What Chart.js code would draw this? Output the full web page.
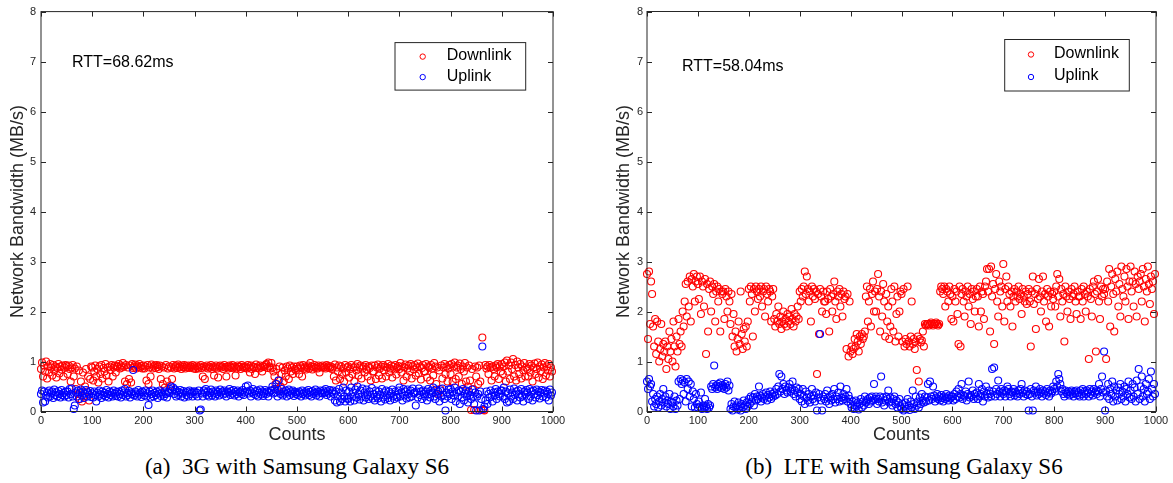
<!DOCTYPE html>
<html>
<head>
<meta charset="utf-8">
<script src="https://cdn.jsdelivr.net/npm/chart.js@4.4.1/dist/chart.umd.min.js"></script>
<style>
  body { margin: 0; background: #fff; }
  #wrap { position: relative; width: 1173px; height: 483px; }
  .panel { position: absolute; top: 0; }
  .caption { position: absolute; top: 454px; font: 23px "Liberation Serif", "Times New Roman", serif; color: #000; white-space: pre; transform: translateX(-50%); line-height: 26px; }
</style>
</head>
<body>
<div id="wrap">
  <canvas id="chart3g" class="panel" style="left:0" width="570" height="446"></canvas>
  <canvas id="chartLte" class="panel" style="left:606px" width="567" height="446"></canvas>
  <div class="caption" style="left:297px">(a)  3G with Samsung Galaxy S6</div>
  <div class="caption" style="left:904px">(b)  LTE with Samsung Galaxy S6</div>
</div>
<script>
// sample index (every 2nd count)
const counts = [
  0,2,4,6,8,10,12,14,16,18,20,22,24,26,28,30,32,34,36,38,40,42,44,46,48,
  50,52,54,56,58,60,62,64,66,68,70,72,74,76,78,80,82,84,86,88,90,92,94,96,98,
  100,102,104,106,108,110,112,114,116,118,120,122,124,126,128,130,132,134,136,138,140,142,144,146,148,
  150,152,154,156,158,160,162,164,166,168,170,172,174,176,178,180,182,184,186,188,190,192,194,196,198,
  200,202,204,206,208,210,212,214,216,218,220,222,224,226,228,230,232,234,236,238,240,242,244,246,248,
  250,252,254,256,258,260,262,264,266,268,270,272,274,276,278,280,282,284,286,288,290,292,294,296,298,
  300,302,304,306,308,310,312,314,316,318,320,322,324,326,328,330,332,334,336,338,340,342,344,346,348,
  350,352,354,356,358,360,362,364,366,368,370,372,374,376,378,380,382,384,386,388,390,392,394,396,398,
  400,402,404,406,408,410,412,414,416,418,420,422,424,426,428,430,432,434,436,438,440,442,444,446,448,
  450,452,454,456,458,460,462,464,466,468,470,472,474,476,478,480,482,484,486,488,490,492,494,496,498,
  500,502,504,506,508,510,512,514,516,518,520,522,524,526,528,530,532,534,536,538,540,542,544,546,548,
  550,552,554,556,558,560,562,564,566,568,570,572,574,576,578,580,582,584,586,588,590,592,594,596,598,
  600,602,604,606,608,610,612,614,616,618,620,622,624,626,628,630,632,634,636,638,640,642,644,646,648,
  650,652,654,656,658,660,662,664,666,668,670,672,674,676,678,680,682,684,686,688,690,692,694,696,698,
  700,702,704,706,708,710,712,714,716,718,720,722,724,726,728,730,732,734,736,738,740,742,744,746,748,
  750,752,754,756,758,760,762,764,766,768,770,772,774,776,778,780,782,784,786,788,790,792,794,796,798,
  800,802,804,806,808,810,812,814,816,818,820,822,824,826,828,830,832,834,836,838,840,842,844,846,848,
  850,852,854,856,858,860,862,864,866,868,870,872,874,876,878,880,882,884,886,888,890,892,894,896,898,
  900,902,904,906,908,910,912,914,916,918,920,922,924,926,928,930,932,934,936,938,940,942,944,946,948,
  950,952,954,956,958,960,962,964,966,968,970,972,974,976,978,980,982,984,986,988,990,992,994,996,998
];

const xTicks = [0, 100, 200, 300, 400, 500, 600, 700, 800, 900, 1000];
const yTicks = [0, 1, 2, 3, 4, 5, 6, 7, 8];

// 3G (MB/s)
const down3g = [
  0.85,0.98,0.7,0.92,0.8,1.0,0.66,0.9,0.78,0.95,0.88,0.72,0.93,0.82,0.9,0.68,0.87,0.95,0.76,0.9,0.84,0.92,0.7,0.88,0.93,
  0.9,0.75,0.92,0.85,0.6,0.88,0.93,0.7,0.86,0.45,0.9,0.35,0.82,0.25,0.6,0.2,0.78,0.3,0.5,0.85,0.4,0.7,0.22,0.65,0.9,
  0.88,0.62,0.8,0.92,0.7,0.85,0.58,0.9,0.75,0.93,0.66,0.87,0.8,0.95,0.72,0.88,0.6,0.9,0.83,0.93,0.7,0.88,0.92,0.78,0.9,
  0.9,0.95,0.86,0.92,0.88,0.97,0.9,0.6,0.93,0.55,0.88,0.65,0.92,0.58,0.95,0.87,0.9,0.94,0.86,0.92,0.89,0.95,0.88,0.91,0.86,
  0.92,0.86,0.9,0.62,0.93,0.55,0.88,0.7,0.94,0.86,0.9,0.92,0.87,0.93,0.89,0.85,0.92,0.65,0.9,0.55,0.88,0.48,0.93,0.6,0.86,
  0.9,0.52,0.88,0.65,0.93,0.86,0.9,0.92,0.87,0.94,0.88,0.9,0.85,0.92,0.89,0.93,0.86,0.9,0.88,0.92,0.87,0.91,0.89,0.93,0.86,
  0.9,0.85,0.92,0.88,0.86,0.9,0.93,0.87,0.7,0.9,0.65,0.88,0.92,0.86,0.9,0.88,0.93,0.85,0.9,0.72,0.88,0.92,0.86,0.68,0.9,
  0.92,0.88,0.9,0.85,0.93,0.88,0.7,0.9,0.86,0.92,0.89,0.87,0.93,0.88,0.9,0.72,0.86,0.92,0.89,0.9,0.85,0.93,0.88,0.9,0.87,
  0.9,0.86,0.93,0.88,0.78,0.92,0.85,0.9,0.88,0.75,0.94,0.87,0.9,0.86,0.92,0.88,0.8,0.91,0.89,0.93,0.95,0.87,0.98,0.9,0.86,
  0.97,0.88,0.8,0.7,0.55,0.85,0.45,0.62,0.9,0.5,0.75,0.88,0.6,0.82,0.7,0.9,0.86,0.65,0.92,0.8,0.88,0.75,0.9,0.85,0.82,
  0.9,0.86,0.75,0.92,0.88,0.7,0.93,0.86,0.9,0.84,0.88,0.92,0.86,0.97,0.9,0.84,0.89,0.93,0.87,0.9,0.86,0.92,0.78,0.9,0.88,
  0.92,0.88,0.9,0.86,0.93,0.88,0.91,0.87,0.9,0.85,0.88,0.7,0.94,0.62,0.88,0.8,0.92,0.65,0.9,0.75,0.86,0.6,0.93,0.78,0.88,
  0.9,0.68,0.85,0.93,0.75,0.88,0.6,0.9,0.82,0.95,0.72,0.88,0.92,0.66,0.86,0.9,0.78,0.93,0.84,0.7,0.9,0.87,0.62,0.92,0.8,
  0.8,0.92,0.65,0.88,0.94,0.72,0.86,0.9,0.66,0.93,0.82,0.9,0.7,0.88,0.95,0.78,0.86,0.92,0.68,0.9,0.84,0.93,0.74,0.88,0.91,
  0.85,0.97,0.78,0.9,0.62,0.88,0.94,0.7,0.86,0.92,0.8,0.95,0.66,0.9,0.84,0.93,0.72,0.88,0.96,0.76,0.9,0.64,0.87,0.93,0.8,
  0.8,0.95,0.68,0.9,0.88,0.62,0.93,0.86,0.72,0.97,0.9,0.55,0.88,0.35,0.82,0.45,0.92,0.66,0.88,0.95,0.75,0.9,0.6,0.86,0.93,
  0.75,0.95,0.6,0.9,0.98,0.65,0.88,0.92,0.7,0.96,0.85,0.55,0.9,0.8,0.97,0.6,0.88,0.5,0.92,0.62,0.03,0.85,0.45,0.03,0.9,
  0.7,0.88,0.55,0.92,0.6,0.03,1.48,0.03,0.02,0.93,0.86,0.9,0.75,0.93,0.88,0.62,0.9,0.85,0.7,0.92,0.88,0.95,0.65,0.9,0.8,
  0.95,0.75,0.9,0.98,0.6,1.02,0.8,0.92,0.65,0.98,0.85,1.05,0.7,0.93,0.62,1.0,0.88,0.75,0.95,0.66,0.9,0.82,0.97,0.7,0.88,
  0.85,0.7,0.95,0.78,0.92,0.6,0.88,0.96,0.75,0.85,0.98,0.68,0.9,0.8,0.94,0.65,0.88,0.97,0.72,0.9,0.82,0.95,0.7,0.88,0.8
];
const up3g = [
  0.35,0.42,0.18,0.4,0.2,0.32,0.38,0.28,0.42,0.3,0.36,0.4,0.27,0.44,0.33,0.38,0.3,0.41,0.35,0.28,0.43,0.33,0.37,0.3,0.4,
  0.33,0.4,0.28,0.45,0.35,0.46,0.3,0.05,0.12,0.38,0.3,0.42,0.25,0.38,0.44,0.32,0.4,0.27,0.36,0.43,0.3,0.38,0.34,0.41,0.29,
  0.36,0.28,0.4,0.33,0.2,0.38,0.3,0.42,0.34,0.27,0.4,0.33,0.37,0.3,0.43,0.35,0.28,0.4,0.33,0.38,0.3,0.42,0.36,0.31,0.39,
  0.3,0.4,0.35,0.28,0.42,0.33,0.38,0.45,0.3,0.37,0.33,0.41,0.28,0.38,0.35,0.83,0.32,0.4,0.36,0.3,0.43,0.34,0.38,0.29,0.4,
  0.38,0.32,0.42,0.3,0.36,0.13,0.4,0.28,0.35,0.42,0.3,0.37,0.33,0.4,0.27,0.36,0.42,0.31,0.38,0.34,0.3,0.4,0.35,0.28,0.39,
  0.37,0.45,0.5,0.42,0.48,0.35,0.44,0.3,0.4,0.33,0.38,0.43,0.3,0.36,0.41,0.28,0.38,0.33,0.4,0.3,0.42,0.35,0.38,0.3,0.4,
  0.4,0.34,0.38,0.3,0.42,0.02,0.04,0.36,0.3,0.42,0.38,0.45,0.33,0.4,0.3,0.37,0.44,0.32,0.4,0.36,0.3,0.42,0.35,0.39,0.32,
  0.44,0.38,0.4,0.34,0.42,0.36,0.3,0.4,0.38,0.45,0.33,0.41,0.36,0.43,0.32,0.39,0.35,0.42,0.3,0.38,0.4,0.35,0.43,0.33,0.38,
  0.5,0.4,0.52,0.36,0.42,0.3,0.38,0.45,0.35,0.4,0.33,0.42,0.3,0.38,0.44,0.34,0.4,0.31,0.37,0.43,0.35,0.4,0.3,0.38,0.42,
  0.42,0.5,0.36,0.45,0.38,0.55,0.3,0.62,0.4,0.35,0.45,0.32,0.4,0.36,0.42,0.3,0.38,0.44,0.33,0.4,0.36,0.42,0.31,0.39,0.35,
  0.38,0.33,0.4,0.36,0.3,0.42,0.35,0.38,0.32,0.4,0.36,0.43,0.33,0.39,0.3,0.41,0.35,0.38,0.44,0.32,0.4,0.36,0.3,0.42,0.37,
  0.36,0.42,0.38,0.45,0.33,0.4,0.36,0.43,0.3,0.38,0.42,0.35,0.22,0.4,0.18,0.3,0.45,0.2,0.38,0.25,0.48,0.3,0.2,0.42,0.26,
  0.25,0.4,0.2,0.48,0.3,0.38,0.22,0.44,0.28,0.5,0.35,0.24,0.42,0.3,0.46,0.22,0.38,0.28,0.44,0.33,0.25,0.4,0.3,0.47,0.26,
  0.35,0.22,0.42,0.3,0.26,0.4,0.34,0.2,0.45,0.28,0.38,0.24,0.42,0.32,0.27,0.4,0.22,0.36,0.44,0.3,0.25,0.4,0.33,0.28,0.42,
  0.48,0.3,0.38,0.22,0.45,0.32,0.4,0.26,0.44,0.35,0.28,0.42,0.3,0.46,0.36,0.38,0.12,0.4,0.28,0.46,0.33,0.4,0.25,0.42,0.35,
  0.3,0.4,0.22,0.45,0.35,0.28,0.42,0.38,0.48,0.3,0.25,0.44,0.35,0.4,0.2,0.42,0.3,0.46,0.33,0.25,0.02,0.38,0.3,0.44,0.35,
  0.45,0.25,0.4,0.32,0.48,0.2,0.38,0.3,0.42,0.15,0.4,0.28,0.45,0.22,0.36,0.42,0.3,0.18,0.4,0.33,0.25,0.44,0.3,0.15,0.38,
  0.02,0.3,0.35,0.02,0.4,0.25,1.3,0.05,0.1,0.22,0.4,0.15,0.35,0.28,0.42,0.3,0.2,0.38,0.32,0.45,0.25,0.4,0.35,0.3,0.42,
  0.42,0.3,0.48,0.25,0.4,0.18,0.36,0.2,0.44,0.3,0.38,0.25,0.46,0.33,0.4,0.22,0.42,0.35,0.28,0.45,0.3,0.2,0.4,0.34,0.43,
  0.38,0.25,0.45,0.3,0.4,0.22,0.42,0.35,0.28,0.44,0.33,0.4,0.26,0.38,0.43,0.3,0.36,0.42,0.28,0.4,0.35,0.22,0.44,0.32,0.38
];

// LTE (MB/s)
const downLte = [
  2.75,1.45,2.8,1.75,2.6,2.35,1.7,1.3,1.85,1.15,1.8,1.4,1.0,1.25,1.75,1.1,1.35,1.2,1.4,0.85,1.3,1.05,1.6,1.2,1.45,
  1.0,1.8,1.3,0.9,1.5,1.2,1.85,1.35,1.6,1.3,2.0,1.7,2.2,2.55,1.9,2.6,2.1,2.7,1.8,2.65,2.5,2.75,2.2,2.6,2.7,
  2.55,2.25,2.7,1.95,2.6,2.5,2.1,2.65,1.15,2.55,1.6,2.45,2.6,2.0,2.5,2.35,2.55,1.8,2.4,2.5,2.2,2.45,1.6,2.4,2.35,
  2.4,1.85,2.45,2.3,2.0,2.4,2.2,1.75,2.35,1.5,1.95,1.3,1.6,1.2,1.45,1.8,1.35,2.4,1.55,1.25,1.65,1.4,1.7,1.3,1.8,
  2.45,2.2,2.5,2.35,1.5,2.45,2.0,2.5,2.4,2.25,2.45,2.3,2.5,2.1,2.4,2.45,1.9,2.5,2.35,2.2,2.45,2.4,1.8,2.3,2.45,
  1.85,1.7,1.95,1.8,2.1,1.75,1.9,1.65,1.8,2.0,1.75,1.85,1.7,1.95,1.8,1.9,1.75,2.05,1.85,1.7,1.95,1.8,1.9,2.1,1.85,
  2.4,2.2,2.45,2.3,2.5,2.8,2.35,2.7,2.45,2.2,2.4,1.8,2.5,2.3,2.45,2.25,2.4,0.75,2.35,1.55,2.45,2.3,2.0,2.4,2.2,
  2.2,1.95,2.4,2.25,1.6,2.45,2.3,2.0,2.35,2.6,2.2,1.85,2.4,2.3,2.45,2.1,2.35,1.9,2.4,2.25,2.3,1.25,2.35,1.1,2.2,
  1.2,1.3,1.15,1.25,1.45,1.3,1.55,1.4,1.2,1.5,1.35,1.55,1.45,1.5,1.6,2.3,2.5,1.8,2.2,2.45,1.7,2.35,2.6,2.0,2.4,
  2.0,2.45,2.75,2.3,1.6,2.4,1.9,2.55,2.2,1.5,2.35,1.8,2.1,1.45,1.7,2.45,2.2,1.6,2.5,1.4,1.95,2.3,1.5,2.0,2.4,
  2.35,1.4,2.45,1.3,1.45,1.35,2.5,1.4,1.3,1.5,2.2,1.35,1.45,1.25,1.4,0.83,1.5,0.6,1.45,1.38,1.42,1.6,1.3,1.75,1.72,
  1.75,1.75,1.72,1.75,1.78,1.75,1.72,1.75,1.75,1.78,1.75,1.72,1.75,2.4,2.5,2.45,2.35,2.5,2.1,2.45,2.4,2.2,2.5,2.35,1.85,
  2.3,1.8,2.45,2.2,2.4,1.95,1.35,2.5,1.3,2.35,2.45,2.2,1.9,2.4,2.3,2.5,2.1,2.35,1.75,2.45,2.25,2.4,2.0,2.3,2.45,
  2.3,1.7,2.5,2.0,2.4,2.35,1.85,2.5,2.6,2.85,2.4,2.85,1.6,2.9,2.3,2.55,1.35,2.45,2.75,2.2,1.9,2.6,2.4,2.5,2.1,
  2.95,1.8,2.45,2.7,2.2,2.5,2.35,2.1,2.4,1.7,2.3,2.45,2.2,2.4,2.3,2.5,2.25,2.35,1.95,2.45,2.3,2.2,2.4,2.15,2.35,
  2.45,2.2,1.3,2.4,2.7,2.15,2.35,1.65,2.45,2.25,2.65,2.3,2.0,2.4,2.7,2.2,2.35,1.8,2.45,2.3,1.7,2.4,2.1,2.35,2.25,
  2.4,2.1,2.5,2.75,2.3,2.65,1.9,2.45,2.2,2.35,1.4,2.5,2.3,2.0,2.4,2.25,1.85,2.45,2.3,2.35,2.5,2.2,1.95,2.4,2.3,
  2.3,1.85,2.45,2.2,2.5,2.35,2.0,2.4,2.3,1.05,2.45,2.25,1.9,2.5,2.6,2.35,1.2,2.4,2.65,2.2,1.85,2.5,2.3,2.45,2.35,
  2.45,1.05,2.6,2.2,2.85,1.7,2.5,2.75,2.35,1.6,2.65,2.4,2.8,2.1,2.55,1.9,2.9,2.45,2.3,2.7,2.2,2.85,2.5,1.85,2.6,
  2.9,2.4,2.6,2.1,2.8,2.55,1.9,2.7,2.45,2.6,2.75,2.2,2.85,2.5,1.8,2.65,2.4,2.9,2.55,2.15,2.7,2.45,2.6,1.95,2.75
];
const upLte = [
  0.6,0.45,0.65,0.5,0.55,0.2,0.35,0.1,0.25,0.15,0.3,0.08,0.2,0.35,0.12,0.25,0.45,0.18,0.3,0.1,0.22,0.15,0.35,0.05,0.2,
  0.18,0.1,0.3,0.05,0.22,0.12,0.6,0.25,0.65,0.55,0.62,0.35,0.58,0.2,0.65,0.45,0.6,0.3,0.55,0.1,0.4,0.25,0.08,0.35,0.15,
  0.08,0.2,0.1,0.38,0.05,0.12,0.08,0.25,0.1,0.05,0.15,0.08,0.12,0.5,0.45,0.55,0.92,0.48,0.52,0.45,0.55,0.5,0.58,0.47,0.53,
  0.5,0.45,0.55,0.48,0.6,0.42,0.52,0.05,0.15,0.02,0.1,0.2,0.08,0.12,0.04,0.18,0.1,0.02,0.15,0.08,0.22,0.12,0.05,0.18,0.1,
  0.25,0.15,0.3,0.2,0.28,0.12,0.35,0.22,0.3,0.25,0.5,0.32,0.2,0.28,0.35,0.25,0.3,0.38,0.22,0.33,0.28,0.4,0.25,0.35,0.3,
  0.38,0.32,0.45,0.35,0.5,0.75,0.4,0.7,0.45,0.55,0.35,0.5,0.42,0.38,0.48,0.55,0.4,0.45,0.6,0.35,0.42,0.3,0.48,0.38,0.45,
  0.25,0.35,0.2,0.45,0.3,0.15,0.4,0.28,0.22,0.35,0.18,0.3,0.45,0.25,0.32,0.2,0.38,0.02,0.28,0.35,1.55,0.22,0.02,0.3,0.25,
  0.35,0.2,0.42,0.28,0.15,0.3,0.22,0.35,0.25,0.45,0.18,0.3,0.25,0.38,0.2,0.5,0.28,0.22,0.35,0.25,0.3,0.45,0.2,0.32,0.25,
  0.15,0.08,0.2,0.05,0.12,0.22,0.1,0.18,0.04,0.15,0.25,0.08,0.2,0.12,0.3,0.18,0.22,0.25,0.15,0.28,0.2,0.3,0.22,0.55,0.25,
  0.3,0.15,0.25,0.2,0.3,0.7,0.18,0.28,0.12,0.22,0.3,0.25,0.42,0.18,0.28,0.2,0.12,0.25,0.3,0.15,0.22,0.08,0.18,0.25,0.1,
  0.05,0.15,0.02,0.1,0.18,0.05,0.25,0.12,0.03,0.2,0.08,0.42,0.15,0.05,0.3,0.12,0.2,0.08,0.28,0.15,0.35,0.22,0.18,0.3,0.2,
  0.28,0.55,0.22,0.6,0.3,0.25,0.5,0.32,0.2,0.28,0.35,0.25,0.3,0.22,0.33,0.27,0.2,0.3,0.25,0.35,0.28,0.22,0.32,0.26,0.3,
  0.3,0.22,0.35,0.25,0.4,0.3,0.45,0.28,0.35,0.55,0.25,0.32,0.3,0.4,0.22,0.35,0.6,0.28,0.33,0.3,0.42,0.25,0.35,0.3,0.38,
  0.25,0.55,0.3,0.35,0.45,0.2,0.4,0.3,0.5,0.35,0.28,0.42,0.35,0.3,0.85,0.4,0.88,0.3,0.45,0.35,0.62,0.4,0.3,0.45,0.38,
  0.35,0.42,0.3,0.4,0.5,0.45,0.35,0.3,0.4,0.38,0.45,0.32,0.4,0.36,0.3,0.42,0.35,0.45,0.55,0.38,0.3,0.42,0.35,0.4,0.33,
  0.02,0.35,0.45,0.3,0.02,0.42,0.38,0.5,0.32,0.4,0.35,0.45,0.38,0.3,0.42,0.36,0.4,0.33,0.45,0.38,0.3,0.42,0.36,0.4,0.5,
  0.45,0.4,0.6,0.5,0.75,0.65,0.55,0.4,0.45,0.35,0.3,0.42,0.38,0.35,0.4,0.32,0.38,0.42,0.35,0.3,0.4,0.36,0.42,0.33,0.38,
  0.3,0.42,0.35,0.45,0.3,0.4,0.35,0.42,0.38,0.3,0.45,0.35,0.4,0.32,0.45,0.38,0.42,0.35,0.4,0.55,0.3,0.45,0.7,0.38,1.2,
  0.02,0.4,0.3,0.55,0.25,0.45,0.35,0.6,0.2,0.5,0.3,0.42,0.22,0.48,0.35,0.55,0.25,0.4,0.3,0.5,0.2,0.45,0.35,0.6,0.28,
  0.42,0.25,0.55,0.3,0.48,0.2,0.62,0.35,0.85,0.25,0.5,0.7,0.3,0.45,0.2,0.55,0.35,0.4,0.65,0.25,0.8,0.45,0.3,0.55,0.35
];

const axisColor = '#262626';
const sans = '"Liberation Sans", Arial, Helvetica, sans-serif';

// matlab style box, inward ticks, RTT note and legend
const matlabFrame = {
  id: 'matlabFrame',
  afterDatasetsDraw(chart, args, opts) {
    const ctx = chart.ctx;
    const a = chart.chartArea;
    const x = chart.scales.x;
    const y = chart.scales.y;
    ctx.save();
    ctx.strokeStyle = axisColor;
    ctx.lineWidth = 1;
    ctx.strokeRect(a.left, a.top, a.right - a.left, a.bottom - a.top);
    ctx.beginPath();
    xTicks.forEach(v => {
      const px = Math.round(x.getPixelForValue(v)) + 0.5;
      ctx.moveTo(px, a.bottom); ctx.lineTo(px, a.bottom - 5);
      ctx.moveTo(px, a.top); ctx.lineTo(px, a.top + 5);
    });
    yTicks.forEach(v => {
      const py = Math.round(y.getPixelForValue(v)) + 0.5;
      ctx.moveTo(a.left, py); ctx.lineTo(a.left + 5, py);
      ctx.moveTo(a.right, py); ctx.lineTo(a.right - 5, py);
    });
    ctx.stroke();

    ctx.fillStyle = '#000';
    ctx.font = '16px ' + sans;
    ctx.textBaseline = 'middle';
    ctx.textAlign = 'left';
    ctx.fillText(opts.rtt, a.left + opts.rttX, a.top + opts.rttY);

    const lg = opts.legend;
    ctx.fillStyle = '#fff';
    ctx.fillRect(a.right - lg.left, a.top + lg.top, lg.left - lg.right, lg.bottom - lg.top);
    ctx.strokeStyle = axisColor;
    ctx.strokeRect(a.right - lg.left, a.top + lg.top, lg.left - lg.right, lg.bottom - lg.top);
    chart.data.datasets.forEach((ds, i) => {
      const cy = a.top + lg.rows[i];
      ctx.beginPath();
      ctx.arc(a.right - lg.marker, cy + 1, 2.7, 0, Math.PI * 2);
      ctx.strokeStyle = ds.borderColor;
      ctx.stroke();
      ctx.fillStyle = '#000';
      ctx.fillText(ds.label, a.right - lg.text, cy);
    });
    ctx.restore();
  }
};

function makeChart(id, down, up, frame) {
  return new Chart(document.getElementById(id).getContext('2d'), {
    type: 'scatter',
    data: {
      datasets: [{
        label: 'Downlink',
        data: down.map((v, i) => ({ x: counts[i], y: v })),
        borderColor: 'rgb(255, 0, 0)',
        backgroundColor: 'rgba(0, 0, 0, 0)',
        pointRadius: 3.5,
        borderWidth: 1.1,
        clip: false,
        order: 1
      }, {
        label: 'Uplink',
        data: up.map((v, i) => ({ x: counts[i], y: v })),
        borderColor: 'rgb(0, 0, 255)',
        backgroundColor: 'rgba(0, 0, 0, 0)',
        pointRadius: 3.5,
        borderWidth: 1.1,
        clip: false,
        order: 0
      }]
    },
    options: {
      responsive: false,
      animation: false,
      events: [],
      layout: { padding: { left: 0, right: 17, top: 11.5, bottom: 0 } },
      scales: {
        x: {
          type: 'linear',
          min: 0,
          max: 1000,
          afterFit: s => { s.height = 34.5; },
          grid: { display: false, drawTicks: false },
          border: { display: false },
          ticks: { stepSize: 100, padding: 3, maxRotation: 0, color: axisColor, font: { size: 11, family: sans }, callback: v => String(v) },
          title: { display: true, text: 'Counts', color: axisColor, padding: { top: 0, bottom: 0 }, font: { size: 18, family: sans } }
        },
        y: {
          min: 0,
          max: 8,
          afterFit: s => { s.width = 41; },
          grid: { display: false, drawTicks: false },
          border: { display: false },
          ticks: { stepSize: 1, padding: frame.tickPad, color: axisColor, font: { size: 11, family: sans } },
          title: { display: true, text: 'Network Bandwidth (MB/s)', color: axisColor, padding: { top: 7.5, bottom: 0 }, font: { size: 18, family: sans } }
        }
      },
      plugins: {
        legend: { display: false },
        tooltip: { enabled: false },
        matlabFrame: frame
      }
    },
    plugins: [matlabFrame]
  });
}

makeChart('chart3g', down3g, up3g, {
  rtt: 'RTT=68.62ms', rttX: 31, rttY: 51, tickPad: 5,
  legend: { left: 158, right: 27.3, top: 31, bottom: 78.5, marker: 130.3, text: 106.3, rows: [44, 64.5] }
});
makeChart('chartLte', downLte, upLte, {
  rtt: 'RTT=58.04ms', rttX: 35, rttY: 55.5, tickPad: 4,
  legend: { left: 151.3, right: 26.7, top: 28, bottom: 79.5, marker: 125, text: 102, rows: [42, 64.5] }
});
</script>
</body>
</html>
